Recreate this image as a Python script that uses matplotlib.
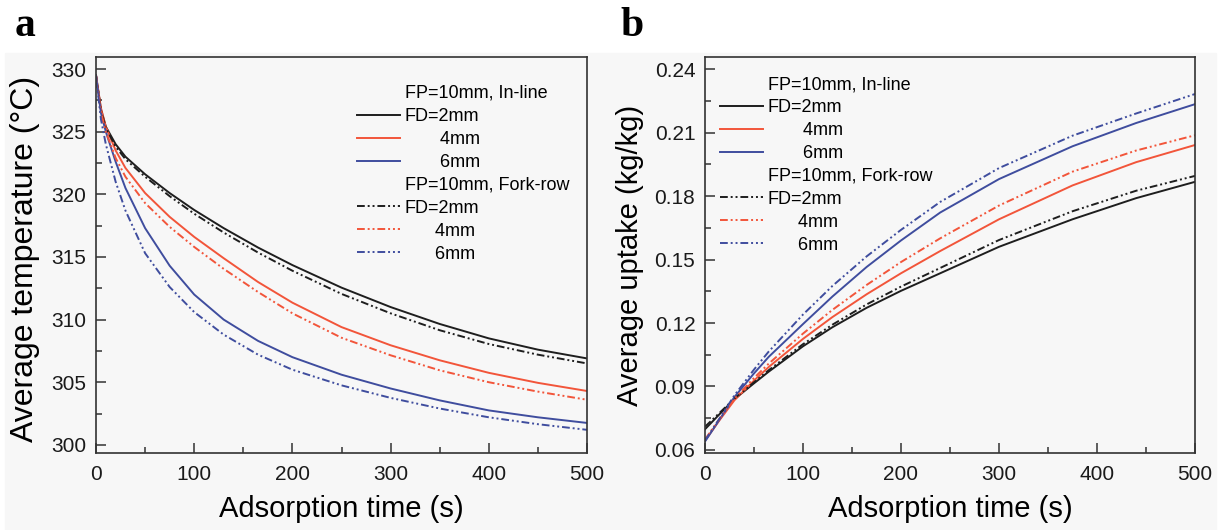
import matplotlib
matplotlib.use("Agg")
import matplotlib.pyplot as plt
from matplotlib.lines import Line2D
from matplotlib.patches import Rectangle
from matplotlib.ticker import MultipleLocator, FormatStrFormatter

plt.rcParams['font.family'] = ['Liberation Sans', 'DejaVu Sans']

# ---- panel a: average temperature ----
t_a = [0, 5, 10, 20, 30, 50, 75, 100, 130, 165, 200, 250, 300, 350, 400, 450, 500]
temp_in_2 = [329.5, 326.8, 325.4, 324.0, 323.0, 321.6, 320.1, 318.75, 317.3, 315.75,
             314.35, 312.55, 311.0, 309.65, 308.5, 307.6, 306.9]
temp_in_4 = [329.5, 326.9, 325.4, 323.5, 322.1, 320.1, 318.2, 316.6, 314.9, 313.0,
             311.35, 309.4, 307.95, 306.75, 305.75, 304.95, 304.3]
temp_in_6 = [329.5, 326.5, 325.0, 322.6, 320.5, 317.3, 314.3, 312.0, 310.0, 308.3,
             307.0, 305.6, 304.5, 303.55, 302.75, 302.2, 301.75]
temp_fk_2 = [329.5, 326.7, 325.3, 323.8, 322.8, 321.4, 319.85, 318.45, 316.95, 315.35,
             313.9, 312.05, 310.5, 309.15, 308.05, 307.2, 306.5]
temp_fk_4 = [329.5, 326.6, 325.0, 322.9, 321.4, 319.3, 317.4, 315.8, 314.05, 312.2,
             310.5, 308.55, 307.15, 305.95, 305.0, 304.25, 303.6]
temp_fk_6 = [329.5, 326.0, 324.0, 321.0, 318.7, 315.3, 312.6, 310.6, 308.8, 307.2,
             306.0, 304.75, 303.75, 302.9, 302.2, 301.65, 301.2]

# ---- panel b: average uptake ----
t_b = [0, 15, 30, 50, 65, 100, 130, 165, 200, 240, 300, 375, 440, 500]
up_in_2 = [0.0698, 0.0770, 0.0840, 0.0915, 0.0970, 0.1090, 0.1180, 0.1272, 0.1352,
           0.1435, 0.1560, 0.1690, 0.1790, 0.1867]
up_in_4 = [0.0644, 0.0742, 0.0835, 0.0928, 0.0992, 0.1125, 0.1228, 0.1336, 0.1435,
           0.1540, 0.1690, 0.1850, 0.1960, 0.2041]
up_in_6 = [0.0640, 0.0745, 0.0850, 0.0962, 0.1040, 0.1195, 0.1325, 0.1465, 0.1590,
           0.1722, 0.1880, 0.2035, 0.2145, 0.2234]
up_fk_2 = [0.0710, 0.0776, 0.0843, 0.0920, 0.0977, 0.1100, 0.1192, 0.1288, 0.1372,
           0.1460, 0.1592, 0.1728, 0.1825, 0.1895]
up_fk_4 = [0.0650, 0.0748, 0.0842, 0.0940, 0.1008, 0.1150, 0.1262, 0.1380, 0.1488,
           0.1600, 0.1755, 0.1915, 0.2015, 0.2087]
up_fk_6 = [0.0645, 0.0750, 0.0858, 0.0980, 0.1065, 0.1240, 0.1375, 0.1515, 0.1640,
           0.1772, 0.1932, 0.2085, 0.2190, 0.2282]

labels = ['FD=2mm', '       4mm', '       6mm']
labels_fk = ['FD=2mm', '      4mm', '      6mm']
colors = ['#1e1e1e', '#f2553a', '#3f4d9e']
dashdot = (0, (4, 1.5, 1, 1.5, 1, 1.5))
bg = '#f7f7f7'

W, H = 1221, 530
fig = plt.figure(figsize=(W / 100, H / 100), dpi=100)
fig.patch.set_facecolor('white')
fig.add_artist(Rectangle((5 / W, 0), 1 - 10 / W, 1 - 53 / H, transform=fig.transFigure,
                         color=bg, zorder=0))

ax_a = fig.add_axes([96 / W, 1 - 453 / H, 491 / W, 396 / H])
ax_b = fig.add_axes([705 / W, 1 - 453 / H, 490 / W, 396 / H])


def style(ax):
    ax.set_facecolor(bg)
    for s in ax.spines.values():
        s.set_color('#333333')
        s.set_linewidth(1.2)
    ax.tick_params(which='both', direction='in', top=False, right=False,
                   colors='#333333', labelcolor='#1a1a1a', labelsize=15, width=1.1)
    ax.tick_params(which='major', length=7)
    ax.tick_params(which='minor', length=4)
    ax.tick_params(axis='x', pad=9)
    ax.tick_params(axis='y', pad=7)
    ax.set_xlim(0, 500)
    ax.xaxis.set_major_locator(MultipleLocator(100))
    ax.xaxis.set_minor_locator(MultipleLocator(50))
    ax.set_xlabel('Adsorption time (s)', fontsize=21)
    ax.xaxis.set_label_coords(0.5, -0.105)


def draw(ax, t, solid, dashed, lx, ly):
    for y, c in zip(solid, colors):
        ax.plot(t, y, color=c, lw=1.4)
    for y, c in zip(dashed, colors):
        ax.plot(t, y, color=c, lw=1.4, linestyle=dashdot)
    blank = Line2D([], [], color='none')
    hs = [blank] + [Line2D([], [], color=c, lw=1.4) for c in colors] + \
         [blank] + [Line2D([], [], color=c, lw=1.4, linestyle=dashdot) for c in colors]
    lb = ['FP=10mm, In-line'] + labels + ['FP=10mm, Fork-row'] + labels_fk
    ax.legend(hs, lb, loc='upper left', bbox_to_anchor=(lx / W, 1 - ly / H),
              bbox_transform=fig.transFigure, frameon=False, fontsize=13,
              handlelength=2.4, handletextpad=0.25, labelspacing=0.33,
              borderpad=0, borderaxespad=0)


style(ax_a)
draw(ax_a, t_a, [temp_in_2, temp_in_4, temp_in_6],
     [temp_fk_2, temp_fk_4, temp_fk_6], 357, 85)
ax_a.set_ylim(299.35, 330.96)
ax_a.yaxis.set_major_locator(MultipleLocator(5))
ax_a.yaxis.set_minor_locator(MultipleLocator(2.5))
ax_a.set_ylabel('Average temperature (°C)', fontsize=23, va='center')
ax_a.yaxis.set_label_coords(-0.145, 0.49)

style(ax_b)
draw(ax_b, t_b, [up_in_2, up_in_4, up_in_6],
     [up_fk_2, up_fk_4, up_fk_6], 720, 76)
ax_b.set_ylim(0.05858, 0.24568)
ax_b.yaxis.set_major_locator(MultipleLocator(0.03))
ax_b.yaxis.set_minor_locator(MultipleLocator(0.015))
ax_b.yaxis.set_major_formatter(FormatStrFormatter('%.2f'))
ax_b.set_ylabel('Average uptake (kg/kg)', fontsize=21, va='center')
ax_b.yaxis.set_label_coords(-0.153, 0.5)

fig.text(15 / W, 1 - 36 / H, 'a', fontsize=30, fontweight='bold',
         family='Liberation Serif', va='baseline')
fig.text(620 / W, 1 - 36 / H, 'b', fontsize=30, fontweight='bold',
         family='Liberation Serif', va='baseline')

fig.savefig('out.png', dpi=100)
